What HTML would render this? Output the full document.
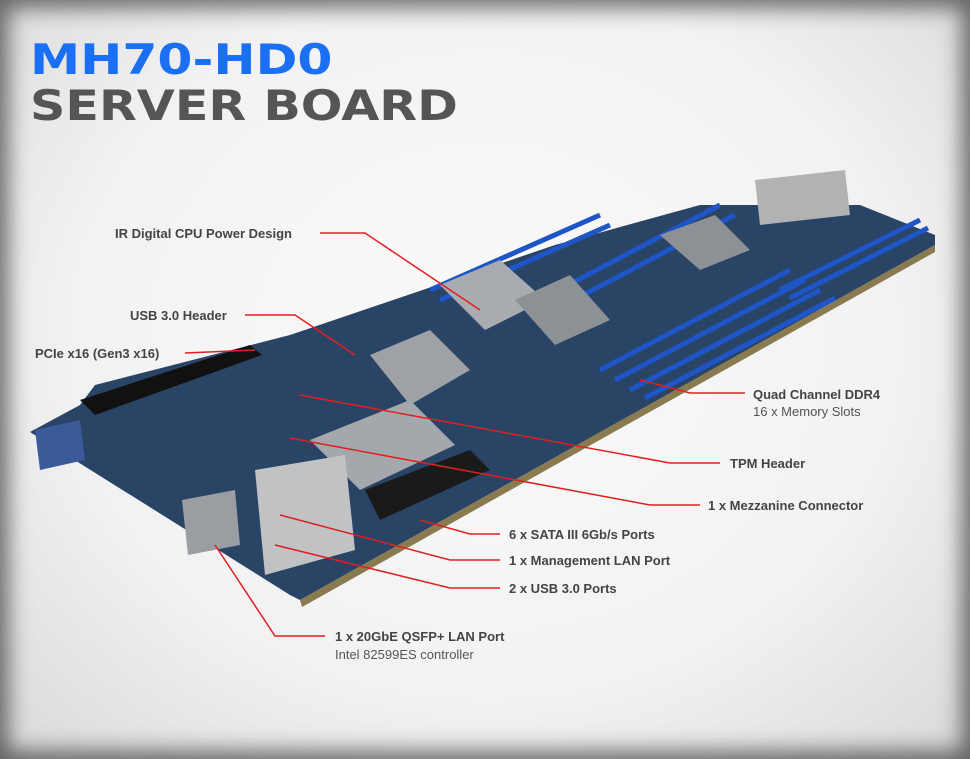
<!DOCTYPE html>
<html><head><meta charset="utf-8"><style>
html,body{margin:0;padding:0}
body{width:970px;height:759px;position:relative;overflow:hidden;background:radial-gradient(ellipse at 50% 45%,#fafafa 0%,#f2f2f2 60%,#d8d8d8 100%);font-family:"Liberation Sans",sans-serif}
.vig{position:absolute;inset:0;box-shadow:inset 0 0 22px 8px rgba(0,0,0,0.55);pointer-events:none}
.t1,.t2{position:absolute;left:30px;font-family:"DejaVu Sans","Liberation Sans",sans-serif;font-weight:900;letter-spacing:0px;transform-origin:left}
.t1{top:36px;font-size:42px;color:#1a6ff2;line-height:48px;transform:scaleX(1.2)}
.t2{top:82px;font-size:42px;color:#555;line-height:48px;transform:scaleX(1.17)}
.l{position:absolute;font-size:13px;font-weight:bold;color:#444;white-space:nowrap}
.s{position:absolute;font-size:13px;color:#555;white-space:nowrap}
svg{position:absolute;left:0;top:0}
</style></head><body>
<div class="t1">MH70-HD0</div>
<div class="t2">SERVER BOARD</div>
<svg width="970" height="759">
<polygon points="30,432 80,405 95,385 290,335 555,245 700,205 860,205 935,235 935,245 300,600 290,595" fill="#2a4466"/>
<polygon points="300,600 935,245 935,252 302,607" fill="#8a7a50"/>
<g stroke="#1e56c8" stroke-width="5">
<line x1="540" y1="300" x2="720" y2="205"/><line x1="555" y1="310" x2="735" y2="215"/>
<line x1="430" y1="290" x2="600" y2="215"/><line x1="440" y1="300" x2="610" y2="225"/>
<line x1="600" y1="370" x2="790" y2="270"/><line x1="615" y1="380" x2="805" y2="280"/>
<line x1="630" y1="390" x2="820" y2="290"/><line x1="645" y1="398" x2="835" y2="298"/>
<line x1="780" y1="290" x2="920" y2="220"/><line x1="790" y1="298" x2="928" y2="228"/>
</g>
<polygon points="440,285 500,260 545,300 485,330" fill="#a8acb0"/>
<polygon points="370,355 430,330 470,370 410,405" fill="#9ea2a6"/>
<polygon points="310,440 410,400 455,445 360,490" fill="#a4a8ac"/>
<polygon points="755,180 845,170 850,215 760,225" fill="#b0b2b4"/>
<polygon points="515,300 570,275 610,320 555,345" fill="#8c9196"/>
<polygon points="660,235 715,215 750,250 700,270" fill="#8c9196"/>
<polygon points="80,400 250,345 262,355 95,415" fill="#111"/>
<polygon points="365,490 470,450 490,470 380,520" fill="#1a1a1a"/>
<polygon points="255,470 345,455 355,550 265,575" fill="#c0c2c4"/>
<polygon points="182,500 235,490 240,545 188,555" fill="#9a9ea2"/>
<polygon points="35,430 80,420 85,460 40,470" fill="#3a5a9a"/>
<g stroke="#e02020" stroke-width="1.5" fill="none">
<polyline points="320,233 365,233 480,310"/>
<polyline points="245,315 295,315 355,355"/>
<polyline points="185,353 255,350"/>
<polyline points="745,393 690,393 640,380"/>
<polyline points="720,463 670,463 300,395"/>
<polyline points="700,505 650,505 290,438"/>
<polyline points="500,534 470,534 420,520"/>
<polyline points="500,560 450,560 280,515"/>
<polyline points="500,588 450,588 275,545"/>
<polyline points="325,636 275,636 215,545"/>
</g>
</svg>
<div class="l" style="left:115px;top:226px">IR Digital CPU Power Design</div>
<div class="l" style="left:130px;top:308px">USB 3.0 Header</div>
<div class="l" style="left:35px;top:346px">PCIe x16 (Gen3 x16)</div>
<div class="l" style="left:753px;top:387px">Quad Channel DDR4</div>
<div class="s" style="left:753px;top:404px">16 x Memory Slots</div>
<div class="l" style="left:730px;top:456px">TPM Header</div>
<div class="l" style="left:708px;top:498px">1 x Mezzanine Connector</div>
<div class="l" style="left:509px;top:527px">6 x SATA III 6Gb/s Ports</div>
<div class="l" style="left:509px;top:553px">1 x Management LAN Port</div>
<div class="l" style="left:509px;top:581px">2 x USB 3.0 Ports</div>
<div class="l" style="left:335px;top:629px">1 x 20GbE QSFP+ LAN Port</div>
<div class="s" style="left:335px;top:647px">Intel 82599ES controller</div>
<div class="vig"></div>
</body></html>
